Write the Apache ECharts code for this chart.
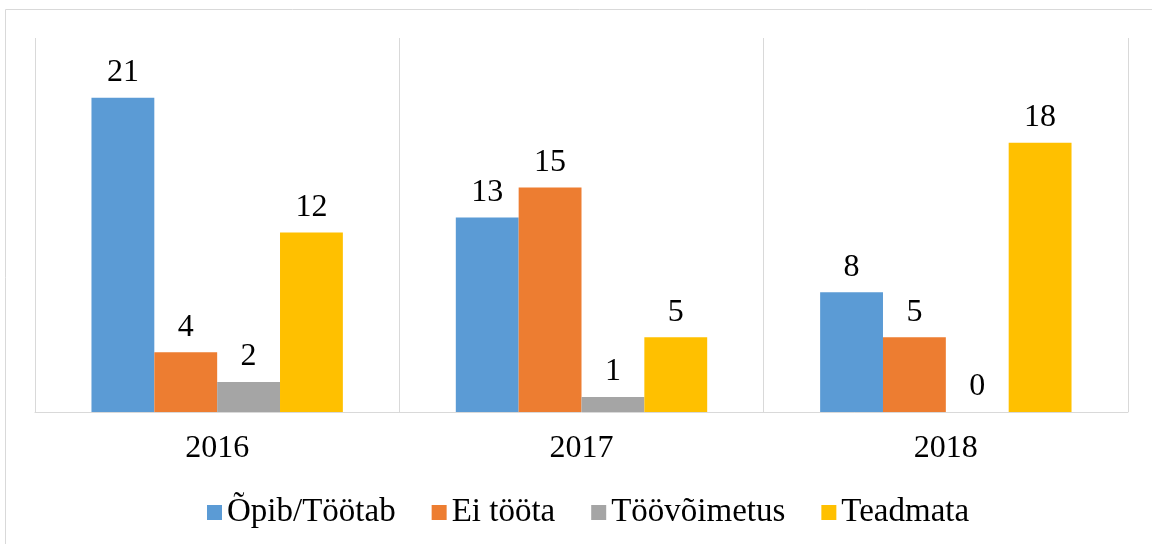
<!DOCTYPE html>
<html>
<head>
<meta charset="utf-8">
<script src="https://cdn.jsdelivr.net/npm/echarts@6/dist/echarts.min.js"></script>
<style>
  html, body { margin: 0; padding: 0; background: #fff; }
  #chart { width: 1152px; height: 544px; }
</style>
</head>
<body>
<div id="chart"></div>
<script>
let years = ['2016', '2017', '2018']
let seriesNames = ['Õpib/Töötab', 'Ei tööta', 'Töövõimetus', 'Teadmata']
let opibTootab = [21, 13, 8]
let eiToota = [4, 15, 5]
let toovoimetus = [2, 1, 0]
let teadmata = [12, 5, 18]
let colors = ['#5b9bd5', '#ed7d31', '#a5a5a5', '#ffc000']

let chart = echarts.init(document.getElementById('chart'))
let font = 'Liberation Serif, Times New Roman, serif'
let values = [opibTootab, eiToota, toovoimetus, teadmata]

let series = seriesNames.map(function (name, i) {
  return {
    name: name,
    type: 'bar',
    data: values[i],
    barGap: 0,
    barCategoryGap: '31%',
    itemStyle: { color: colors[i] },
    label: {
      show: true,
      position: 'top',
      distance: 9,
      color: '#000',
      fontFamily: font,
      fontSize: 32
    }
  }
})

let option = {
  animation: false,
  textStyle: { fontFamily: font },
  graphic: [{
    type: 'rect',
    shape: { x: 5.5, y: 9.5, width: 1200, height: 600 },
    style: { fill: null, stroke: '#d9d9d9', lineWidth: 1 },
    silent: true
  }],
  grid: { left: 35, right: 24, top: 38, bottom: 132 },
  legend: {
    bottom: 10,
    left: 202,
    itemWidth: 15,
    itemHeight: 15,
    itemGap: 36,
    icon: 'rect',
    textStyle: { fontFamily: font, fontSize: 33, color: '#000' },
    data: seriesNames
  },
  xAxis: {
    type: 'category',
    data: years,
    axisLine: { lineStyle: { color: '#d9d9d9', width: 1 } },
    axisTick: { show: false },
    axisLabel: { color: '#000', fontFamily: font, fontSize: 32, margin: 21 },
    splitLine: { show: true, lineStyle: { color: '#d9d9d9', width: 1 } }
  },
  yAxis: {
    type: 'value',
    min: 0,
    max: 25,
    show: false
  },
  series: series
}
chart.setOption(option)
</script>
</body>
</html>
